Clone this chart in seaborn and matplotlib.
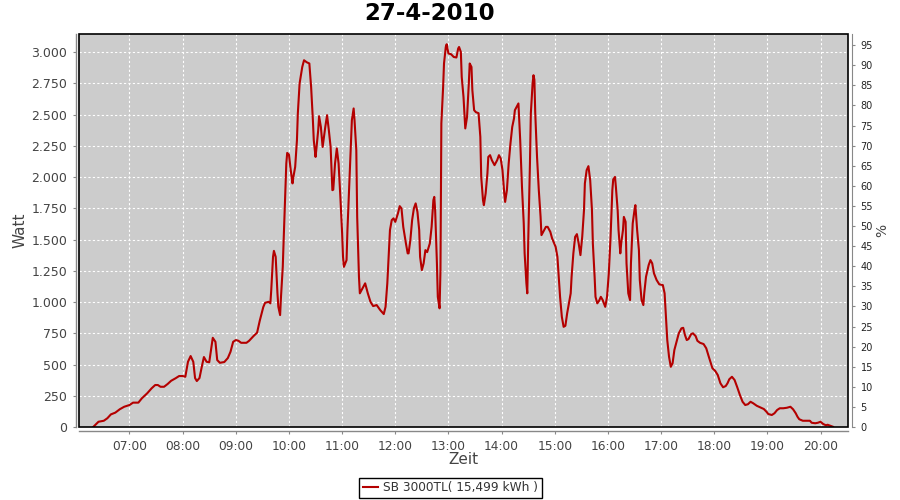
import matplotlib
matplotlib.use("Agg")
import matplotlib.pyplot as plt
import matplotlib.dates as mdates
from matplotlib.ticker import FuncFormatter, FixedLocator
from matplotlib.patches import Rectangle
import seaborn as sns
import pandas as pd

title = "27-4-2010"
series_label = "SB 3000TL( 15,499 kWh )"
day = "2010-04-27"

times = [
    "06:19", "06:25", "06:31", "06:35", "06:39", "06:44", "06:49", "06:54", "07:00", "07:04",
    "07:10", "07:14", "07:20", "07:25", "07:29", "07:32", "07:35", "07:39", "07:43", "07:47",
    "07:52", "07:56", "08:00", "08:03", "08:06", "08:09", "08:12", "08:14", "08:16", "08:19",
    "08:22", "08:24", "08:27", "08:30", "08:32", "08:34", "08:37", "08:39", "08:42", "08:47",
    "08:51", "08:54", "08:57", "09:00", "09:03", "09:06", "09:12", "09:15", "09:20", "09:24",
    "09:27", "09:31", "09:33", "09:37", "09:39", "09:40", "09:42", "09:43", "09:45", "09:47",
    "09:48", "09:50", "09:51", "09:53", "09:54", "09:56", "09:57", "09:58", "10:00", "10:02",
    "10:04", "10:05", "10:07", "10:09", "10:10", "10:12", "10:15", "10:17", "10:20", "10:23",
    "10:25", "10:27", "10:28", "10:30", "10:31", "10:33", "10:34", "10:36", "10:38", "10:39",
    "10:41", "10:43", "10:45", "10:47", "10:49", "10:50", "10:52", "10:54", "10:56", "10:58",
    "11:00", "11:01", "11:02", "11:05", "11:06", "11:08", "11:10", "11:11", "11:13", "11:14",
    "11:16", "11:17", "11:19", "11:20", "11:23", "11:26", "11:29", "11:32", "11:35", "11:39",
    "11:43", "11:47", "11:49", "11:51", "11:53", "11:54", "11:56", "11:58", "12:00", "12:03",
    "12:05", "12:07", "12:09", "12:12", "12:14", "12:15", "12:17", "12:19", "12:21", "12:23",
    "12:25", "12:27", "12:28", "12:30", "12:32", "12:34", "12:36", "12:39", "12:41", "12:43",
    "12:44", "12:45", "12:47", "12:48", "12:50", "12:51", "12:52", "12:54", "12:55", "12:57",
    "12:58", "13:00", "13:03", "13:06", "13:09", "13:11", "13:12", "13:14", "13:15", "13:17",
    "13:19", "13:21", "13:23", "13:24", "13:26", "13:27", "13:29", "13:31", "13:34", "13:36",
    "13:37", "13:39", "13:40", "13:42", "13:44", "13:45", "13:47", "13:49", "13:52", "13:55",
    "13:57", "13:59", "14:01", "14:03", "14:04", "14:06", "14:08", "14:10", "14:12", "14:14",
    "14:15", "14:18", "14:19", "14:21", "14:23", "14:25", "14:26", "14:28", "14:29", "14:30",
    "14:32", "14:33", "14:35", "14:36", "14:37", "14:38", "14:40", "14:42", "14:44", "14:45",
    "14:48", "14:50", "14:52", "14:55", "14:57", "15:01", "15:03", "15:04", "15:06", "15:08",
    "15:10", "15:12", "15:14", "15:16", "15:18", "15:19", "15:21", "15:23", "15:25", "15:27",
    "15:29", "15:31", "15:33", "15:34", "15:36", "15:38", "15:40", "15:42", "15:43", "15:45",
    "15:46", "15:48", "15:50", "15:52", "15:54", "15:57", "15:59", "16:01", "16:03", "16:05",
    "16:06", "16:08", "16:09", "16:11", "16:12", "16:14", "16:15", "16:17", "16:18", "16:20",
    "16:21", "16:23", "16:25", "16:26", "16:28", "16:30", "16:31", "16:33", "16:35", "16:36",
    "16:38", "16:40", "16:41", "16:43", "16:46", "16:48", "16:50", "16:52", "16:55", "16:58",
    "17:02", "17:04", "17:06", "17:07", "17:09", "17:11", "17:13", "17:15", "17:18", "17:20",
    "17:23", "17:25", "17:27", "17:29", "17:31", "17:34", "17:36", "17:39", "17:41", "17:44",
    "17:48", "17:51", "17:54", "17:58", "18:01", "18:04", "18:07", "18:10", "18:13", "18:15",
    "18:17", "18:20", "18:23", "18:26", "18:29", "18:32", "18:35", "18:38", "18:41", "18:44",
    "18:48", "18:52", "18:56", "18:59", "19:01", "19:05", "19:08", "19:11", "19:14", "19:18",
    "19:22", "19:26", "19:29", "19:32", "19:34", "19:36", "19:40", "19:45", "19:48", "19:50",
    "19:54", "19:57", "20:00", "20:03", "20:06", "20:08", "20:11", "20:14",
]

watts = [
    0, 42, 50, 70, 101, 115, 142, 162, 176, 195,
    195, 230, 270, 310, 336, 336, 322, 322, 344, 370,
    390, 408, 408, 402, 522, 568, 522, 392, 368, 392,
    496, 560, 522, 518, 616, 714, 682, 536, 514, 520,
    552, 602, 682, 696, 690, 674, 674, 690, 728, 755,
    850, 960, 994, 1002, 990, 1096, 1362, 1410, 1362, 1070,
    962, 896, 1042, 1282, 1496, 1896, 2110, 2194, 2180, 2056,
    1950, 2002, 2082, 2296, 2510, 2750, 2882, 2936, 2920, 2910,
    2722, 2456, 2296, 2162, 2230, 2376, 2488, 2402, 2242, 2296,
    2402, 2496, 2376, 2242, 1896, 1900, 2110, 2230, 2110, 1842,
    1550, 1362, 1282, 1336, 1576, 1922, 2270, 2456, 2550, 2456,
    2216, 1682, 1202, 1070, 1110, 1150, 1070, 1002, 968, 976,
    936, 904, 962, 1150, 1442, 1576, 1656, 1670, 1642, 1710,
    1768, 1750, 1602, 1470, 1390, 1390, 1496, 1656, 1750, 1790,
    1722, 1576, 1362, 1256, 1310, 1416, 1400, 1470, 1602, 1816,
    1842, 1736, 1310, 1042, 950, 1256, 2430, 2722, 2910, 3042,
    3064, 2990, 2984, 2962, 2958, 3030, 3042, 3002, 2802, 2642,
    2390, 2482, 2750, 2910, 2882, 2696, 2536, 2520, 2512, 2322,
    2002, 1816, 1776, 1870, 2030, 2162, 2176, 2136, 2096, 2136,
    2176, 2150, 2056, 1870, 1802, 1896, 2110, 2270, 2402, 2470,
    2536, 2576, 2590, 2296, 1922, 1630, 1390, 1150, 1070, 1470,
    2110, 2510, 2750, 2816, 2780, 2510, 2162, 1896, 1682, 1536,
    1576, 1602, 1602, 1562, 1510, 1442, 1362, 1256, 1042, 882,
    802, 810, 910, 990, 1070, 1202, 1390, 1522, 1544, 1470,
    1376, 1522, 1736, 1950, 2056, 2088, 1976, 1736, 1470, 1202,
    1042, 990, 1010, 1042, 1018, 962, 1042, 1230, 1522, 1896,
    1982, 2002, 1922, 1736, 1576, 1390, 1470, 1576, 1682, 1642,
    1310, 1070, 1016, 1310, 1630, 1736, 1776, 1576, 1416, 1176,
    1016, 976, 1070, 1202, 1296, 1336, 1310, 1230, 1176, 1142,
    1136, 1070, 830, 696, 562, 482, 510, 616, 696, 750,
    790, 794, 736, 696, 704, 744, 750, 728, 690, 674,
    664, 630, 560, 470, 450, 416, 350, 318, 328, 350,
    382, 402, 376, 318, 256, 202, 176, 182, 202, 190,
    170, 157, 144, 122, 104, 96, 110, 136, 150, 150,
    154, 162, 142, 110, 82, 62, 50, 50, 50, 34,
    30, 34, 42, 24, 14, 18, 10, 2,
]

watt_ticks = list(range(0, 3001, 250))
pct_ticks = list(range(0, 96, 5))
hour_ticks = ["07:00", "08:00", "09:00", "10:00", "11:00", "12:00", "13:00",
              "14:00", "15:00", "16:00", "17:00", "18:00", "19:00", "20:00"]

df = pd.DataFrame({
    "Zeit": pd.to_datetime([f"{day} {t}" for t in times]),
    "Watt": watts,
})

plt.rcParams["font.family"] = ["DejaVu Sans"]

fig = plt.figure(figsize=(9, 5), dpi=100)
fig.patch.set_facecolor("white")
L, R, T, B = 79, 848, 33.5, 427
ax = fig.add_axes([L / 900, 1 - B / 500, (R - L) / 900, (B - T) / 500])
ax.set_facecolor("#cccccc")

sns.lineplot(data=df, x="Zeit", y="Watt", ax=ax, color="#b40000", linewidth=1.5,
             estimator=None, label=series_label, legend=False, zorder=3)

ax.set_xlim(pd.Timestamp(f"{day} 06:03"), pd.Timestamp(f"{day} 20:31"))
ax.set_ylim(0, 3150)

xt = [mdates.date2num(pd.Timestamp(f"{day} {h}")) for h in hour_ticks]
ax.xaxis.set_major_locator(FixedLocator(xt))
ax.set_xticklabels(hour_ticks)
ax.set_yticks(watt_ticks)
ax.yaxis.set_major_formatter(FuncFormatter(lambda v, p: f"{int(round(v)):,}".replace(",", ".")))

ax.grid(True, color="white", linestyle=(0, (2, 2)), linewidth=0.8)
ax.set_axisbelow(True)

for s in ["top", "right"]:
    ax.spines[s].set_visible(False)
ax.spines["left"].set_position(("outward", 2.5))
ax.spines["bottom"].set_position(("outward", 3))
for s in ["left", "bottom"]:
    ax.spines[s].set_color("#888888")
    ax.spines[s].set_linewidth(1.0)
ax.add_patch(Rectangle((0, 0), 1, 1, transform=ax.transAxes, fill=False,
                       edgecolor="black", linewidth=1.2, zorder=6, clip_on=False))

ax.tick_params(axis="both", colors="#888888", labelcolor="#444444", length=2.5, width=0.8)
ax.tick_params(axis="y", labelsize=9)
ax.tick_params(axis="x", labelsize=8.8)

ax.set_xlabel("Zeit", fontsize=11, color="#444444")
ax.set_ylabel("Watt", fontsize=11, color="#444444")
ax.xaxis.set_label_coords(0.5, -(460 - B) / (B - T))
ax.xaxis.label.set_va("center")
ax.yaxis.set_label_coords((20 - L) / (R - L), 0.5)
ax.yaxis.label.set_va("center")

ax2 = ax.twinx()
ax2.set_ylim(0, 97.9)
ax2.set_yticks(pct_ticks)
for s in ["top", "left", "bottom"]:
    ax2.spines[s].set_visible(False)
ax2.spines["right"].set_position(("outward", 3))
ax2.spines["right"].set_color("#888888")
ax2.tick_params(axis="y", colors="#888888", labelcolor="#222222", length=2.5, width=0.8, labelsize=7)
ax2.set_ylabel("%", fontsize=10, color="#444444")
ax2.yaxis.set_label_coords((882 - L) / (R - L), 0.5)
ax2.yaxis.label.set_va("center")

fig.text(430 / 900, 1 - 13 / 500, title, ha="center", va="center",
         fontsize=16.5, fontweight="bold", color="black")

handles, labels = ax.get_legend_handles_labels()
leg = fig.legend(handles, labels, loc="center", bbox_to_anchor=(450.5 / 900, 1 - 488 / 500),
                 fontsize=8.7, frameon=True, fancybox=False, framealpha=1,
                 edgecolor="black", borderpad=0.3, handlelength=1.3, handletextpad=0.4,
                 borderaxespad=0)
leg.get_frame().set_linewidth(1.0)
for t in leg.get_texts():
    t.set_color("#333333")

fig.savefig("out.png", dpi=100)
